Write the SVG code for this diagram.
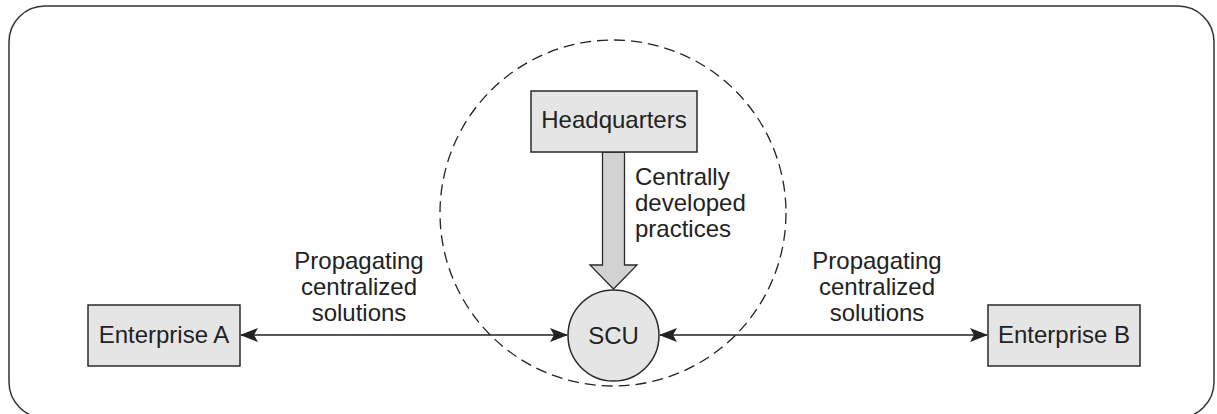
<svg xmlns="http://www.w3.org/2000/svg" width="1217" height="414" viewBox="0 0 1217 414">
<style>
.box{fill:#e5e5e6;stroke:#2a2a2a;stroke-width:1.5}
.t{font-family:"Liberation Sans",Arial,sans-serif;font-size:24px;fill:#222}
.c{text-anchor:middle}
.conn{stroke:#222;stroke-width:1.5;fill:none}
</style>
<defs>
<marker id="ah" viewBox="0 0 18 14" refX="17" refY="7" markerWidth="18" markerHeight="14" markerUnits="userSpaceOnUse" orient="auto-start-reverse">
<path d="M0,0 L18,7 L0,14 L4,7 Z" fill="#222"/>
</marker>
</defs>
<rect x="9" y="6" width="1205" height="412" rx="36" ry="36" fill="none" stroke="#333" stroke-width="1.5"/>
<circle cx="613" cy="213" r="173" fill="none" stroke="#222" stroke-width="1.3" stroke-dasharray="11 6"/>
<g id="connectors">
<line class="conn" x1="241" y1="335" x2="567" y2="335" marker-start="url(#ah)" marker-end="url(#ah)"/>
<line class="conn" x1="660" y1="335" x2="987" y2="335" marker-start="url(#ah)" marker-end="url(#ah)"/>
<path d="M602.5,152 L624.5,152 L624.5,265 L637,265 L613.5,289 L590,265 L602.5,265 Z" fill="#d2d2d3" stroke="#2a2a2a" stroke-width="1.3"/>
</g>
<g id="headquarters">
<rect class="box" x="531" y="91" width="166" height="61"/>
<text class="t c" x="614" y="128">Headquarters</text>
</g>
<g id="scu">
<circle cx="613.5" cy="335.5" r="45.5" fill="#e5e5e6" stroke="#2a2a2a" stroke-width="1.5"/>
<text class="t c" x="613.5" y="344">SCU</text>
</g>
<g id="enterpriseA">
<rect class="box" x="88" y="305" width="152" height="61"/>
<text class="t c" x="164" y="343">Enterprise A</text>
</g>
<g id="enterpriseB">
<rect class="box" x="988" y="305" width="152" height="61"/>
<text class="t c" x="1064" y="343">Enterprise B</text>
</g>
<g id="labels">
<text class="t" x="635" y="185">Centrally</text>
<text class="t" x="635" y="211">developed</text>
<text class="t" x="635" y="237">practices</text>
<text class="t c" x="359" y="269">Propagating</text>
<text class="t c" x="359" y="295">centralized</text>
<text class="t c" x="359" y="321">solutions</text>
<text class="t c" x="877" y="269">Propagating</text>
<text class="t c" x="877" y="295">centralized</text>
<text class="t c" x="877" y="321">solutions</text>
</g>
</svg>
